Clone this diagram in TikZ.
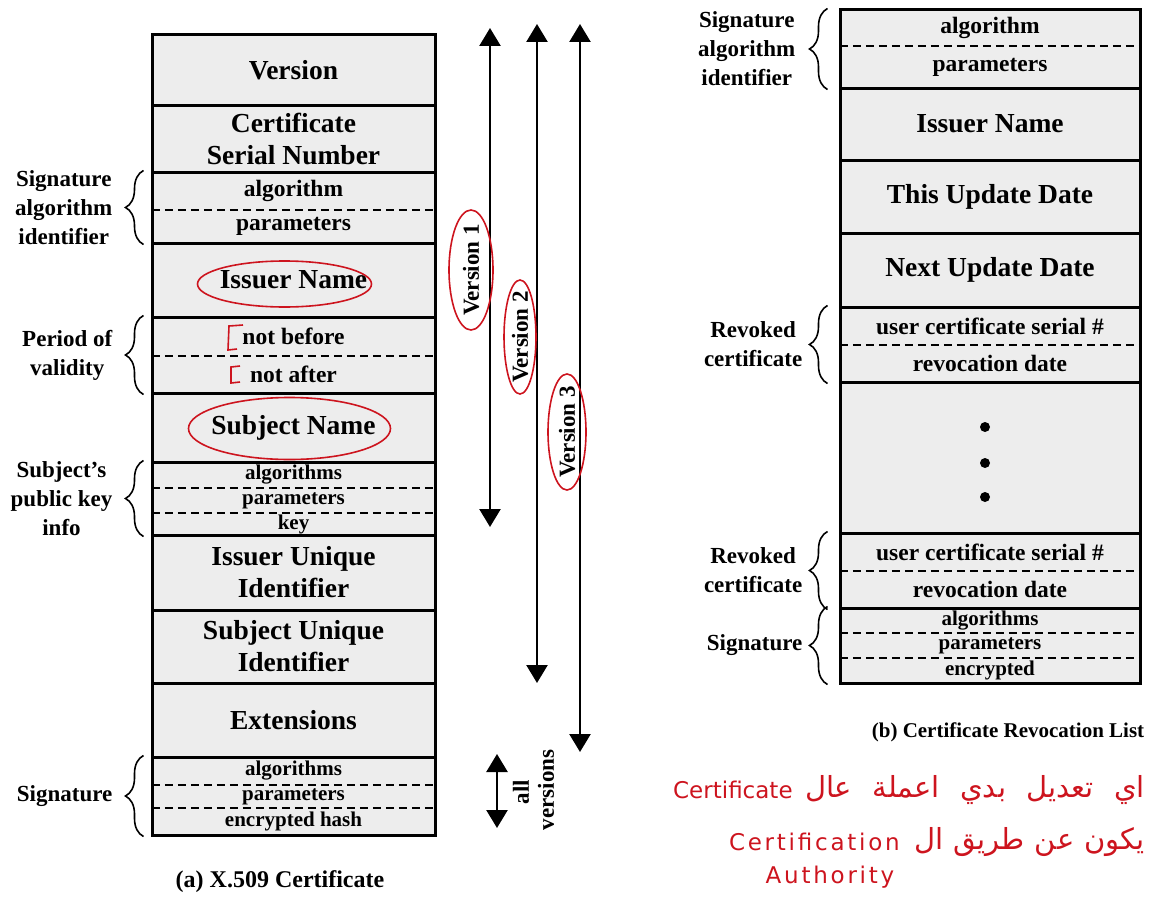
\documentclass[tikz,border=0pt]{standalone}
\usepackage{fontspec}
\setmainfont{Liberation Serif}
\newfontfamily\arabicfont[Script=Arabic]{DejaVu Sans}
\newfontfamily\handfont{DejaVu Sans}
\TeXXeTstate=1
\usetikzlibrary{positioning,arrows.meta,decorations.pathreplacing}

\definecolor{boxgray}{gray}{0.93}
\definecolor{penred}{RGB}{205,20,30}

\newcommand\bigfnt{\fontsize{27.5}{32}\selectfont\bfseries}
\newcommand\smallfnt{\fontsize{23.5}{26}\selectfont\bfseries}
\newcommand\tinyfnt{\fontsize{21}{23}\selectfont\bfseries}
\newcommand\sidefnt{\fontsize{23}{29}\selectfont\bfseries}
\newcommand\handfnt{\handfont\fontsize{23}{26}\selectfont}

\begin{document}
\begin{tikzpicture}[x=1pt, y=-1pt,
 fld/.style args = {#1/#2}{draw, line width=3pt, fill=boxgray, minimum width=#1, minimum height=#2, inner sep=0pt, align=center, font=\bigfnt},
 sub/.style args = {#1/#2}{minimum width=#1, minimum height=#2, inner sep=0pt, font=\smallfnt},
 dashsep/.style = {line width=2pt, dash pattern=on 8pt off 5pt},
 brc/.style = {decorate, decoration={brace, amplitude=18pt}, line width=1.6pt},
 lbl/.style = {align=center, inner sep=0pt, font=\sidefnt},
 vrsn/.style = {{Triangle[width=21pt,length=18pt]}-{Triangle[width=21pt,length=18pt]}, line width=2.5pt},
 redmark/.style = {draw=penred, line width=1.6pt},
 hand/.style = {text=penred, inner sep=0pt, font=\handfnt}]

\useasboundingbox (0,0) rectangle (1151,899);

% (a) certificate
\node(ver) [fld=283/70] at (293.5,70) {Version};
\node(serial) [fld=283/67] at (293.5,138.5) {Certificate\\Serial Number};
\node(sigalg) [fld=283/71] at (293.5,207.5) {};
\node(alg) [sub=283/38] at (293.5,191) {algorithm};
\node(par) [sub=283/33] at (293.5,226.5) {parameters};
\node(issuer) [fld=283/74] at (293.5,280) {Issuer Name};
\node(valid) [fld=283/76] at (293.5,355) {};
\node(nb) [sub=283/39] at (293.5,336.5) {not before};
\node(na) [sub=283/37] at (293.5,374.5) {not after};
\node(subject) [fld=283/69] at (293.5,427.5) {Subject Name};
\node(keyinfo) [fld=283/73] at (293.5,498.5) {};
\node(kalg) [sub=283/26, font=\tinyfnt] at (293.5,475) {algorithms};
\node(kpar) [sub=283/25, font=\tinyfnt] at (293.5,500.5) {parameters};
\node(kkey) [sub=283/22, font=\tinyfnt] at (293.5,524) {key};
\node(iuid) [fld=283/75] at (293.5,572.5) {Issuer Unique\\Identifier};
\node(suid) [fld=283/73] at (293.5,646.5) {Subject Unique\\Identifier};
\node(ext) [fld=283/74] at (293.5,720) {Extensions};
\node(sig) [fld=283/78] at (293.5,796) {};
\node(salg) [sub=283/28, font=\tinyfnt] at (293.5,771) {algorithms};
\node(spar) [sub=283/23, font=\tinyfnt] at (293.5,796.5) {parameters};
\node(shash) [sub=283/27, font=\tinyfnt] at (293.5,821.5) {encrypted hash};

\draw[dashsep] (alg.south west) -- (alg.south east);
\draw[dashsep] (nb.south west) -- (nb.south east);
\draw[dashsep] (kalg.south west) -- (kalg.south east);
\draw[dashsep] (kpar.south west) -- (kpar.south east);
\draw[dashsep] (salg.south west) -- (salg.south east);
\draw[dashsep] (spar.south west) -- (spar.south east);

\node(lsigalg) [lbl, left=38pt of sigalg] {Signature\\algorithm\\identifier};
\node(lvalid) [lbl, left=38pt of valid] {Period of\\validity};
\node(lkey) [lbl, left=38pt of keyinfo] {Subject's\\public key\\info};
\node(lsig) [lbl, left=38pt of sig] {Signature};

\draw[brc] ([xshift=-7pt]sigalg.south west) -- ([xshift=-7pt]sigalg.north west);
\draw[brc] ([xshift=-7pt]valid.south west) -- ([xshift=-7pt]valid.north west);
\draw[brc] ([xshift=-7pt]keyinfo.south west) -- ([xshift=-7pt]keyinfo.north west);
\draw[brc] ([xshift=-7pt]sig.south west) -- ([xshift=-7pt]sig.north west);

\coordinate(v1a) at (490,28);  \coordinate(v1b) at (490,527);
\coordinate(v2a) at (537,24);  \coordinate(v2b) at (537,683);
\coordinate(v3a) at (580,24);  \coordinate(v3b) at (580,752);
\coordinate(ava) at (497,754); \coordinate(avb) at (497,828);
\draw[vrsn] (v1a) -- (v1b);
\draw[vrsn] (v2a) -- (v2b);
\draw[vrsn] (v3a) -- (v3b);
\draw[vrsn] (ava) -- (avb);

\node(ver1) [rotate=90, font=\sidefnt] at (471,270) {Version 1};
\node(ver2) [rotate=90, font=\sidefnt] at (520,337) {Version 2};
\node(ver3) [rotate=90, font=\sidefnt] at (567,432) {Version 3};
\node(allv) [rotate=90, font=\sidefnt] at (521,792) {all};
\node(vers) [rotate=90, font=\sidefnt] at (546,790) {versions};

\node(capa) [font=\fontsize{24}{26}\selectfont\bfseries] at (280,882) {(a) X.509 Certificate};

% (b) revocation list
\node(rsigalg) [fld=300/78] at (990,49) {};
\node(ralg) [sub=300/36] at (990,28) {algorithm};
\node(rpar) [sub=300/42] at (990,67) {parameters};
\node(rissuer) [fld=300/72] at (990,124) {Issuer Name};
\node(this) [fld=300/73] at (990,196.5) {This Update Date};
\node(next) [fld=300/74] at (990,270) {Next Update Date};
\node(rev1) [fld=300/75] at (990,344.5) {};
\node(ser1) [sub=300/38] at (990,326) {user certificate serial \#};
\node(dat1) [sub=300/37] at (990,363.5) {revocation date};
\node(more) [fld=300/151] at (990,457.5) {};
\node(rev2) [fld=300/75] at (990,570.5) {};
\node(ser2) [sub=300/38] at (990,552) {user certificate serial \#};
\node(dat2) [sub=300/37] at (990,589.5) {revocation date};
\node(rsig) [fld=300/75] at (990,645.5) {};
\node(ralgs) [sub=300/25, font=\tinyfnt] at (990,620.5) {algorithms};
\node(rpars) [sub=300/25, font=\tinyfnt] at (990,645.5) {parameters};
\node(renc) [sub=300/25, font=\tinyfnt] at (990,670.5) {encrypted};

\fill (985,427) circle (5) (985,463) circle (5) (985,497) circle (5);

\draw[dashsep] (ralg.south west) -- (ralg.south east);
\draw[dashsep] (ser1.south west) -- (ser1.south east);
\draw[dashsep] (ser2.south west) -- (ser2.south east);
\draw[dashsep] (ralgs.south west) -- (ralgs.south east);
\draw[dashsep] (rpars.south west) -- (rpars.south east);

\node(lrsigalg) [lbl, left=43pt of rsigalg] {Signature\\algorithm\\identifier};
\node(lrev1) [lbl, left=36pt of rev1] {Revoked\\certificate};
\node(lrev2) [lbl, left=36pt of rev2] {Revoked\\certificate};
\node(lrsig) [lbl, left=36pt of rsig] {Signature};

\draw[brc] ([xshift=-11pt]rsigalg.south west) -- ([xshift=-11pt]rsigalg.north west);
\draw[brc] ([xshift=-11pt]rev1.south west) -- ([xshift=-11pt]rev1.north west);
\draw[brc] ([xshift=-11pt]rev2.south west) -- ([xshift=-11pt]rev2.north west);
\draw[brc] ([xshift=-11pt]rsig.south west) -- ([xshift=-11pt]rsig.north west);

\node(capb) [font=\fontsize{21}{23}\selectfont\bfseries] at (1008,732) {(b) Certificate Revocation List};

% pen notes
\draw[redmark] ([xshift=-9pt,yshift=-4pt]issuer.center) ellipse [x radius=87, y radius=23];
\draw[redmark] ([xshift=-4pt,yshift=-1pt]subject.center) ellipse [x radius=101, y radius=31];
\draw[redmark] (ver1.center) ellipse [x radius=22, y radius=60];
\draw[redmark] (ver2.center) ellipse [x radius=16, y radius=57];
\draw[redmark] (ver3.center) ellipse [x radius=19, y radius=58];
\draw[redmark] (243,325) -- (229,326) -- (228,350) -- (237,349);
\draw[redmark] (240,366) -- (231,367) -- (231,383) -- (240,382);

\node(note1) [hand, anchor=east, font=\handfont\fontsize{29}{32}\selectfont] at (1145,790)
  {\arabicfont\spaceskip=0.7em\beginR اي تعديل بدي اعملة عال\endR};
\node(cert) [hand, left=12pt of note1] {Certificate};
\node(note2) [hand, anchor=east, font=\handfont\fontsize{29}{32}\selectfont] at (1145,842)
  {\arabicfont\spaceskip=0.35em\beginR يكون عن طريق ال\endR};
\node(certn) [hand, left=14pt of note2, font=\handfnt\addfontfeatures{LetterSpace=12}] {Certification};
\node(auth) [hand, font=\handfnt\addfontfeatures{LetterSpace=12}] at (830,877) {Authority};

\end{tikzpicture}
\end{document}
